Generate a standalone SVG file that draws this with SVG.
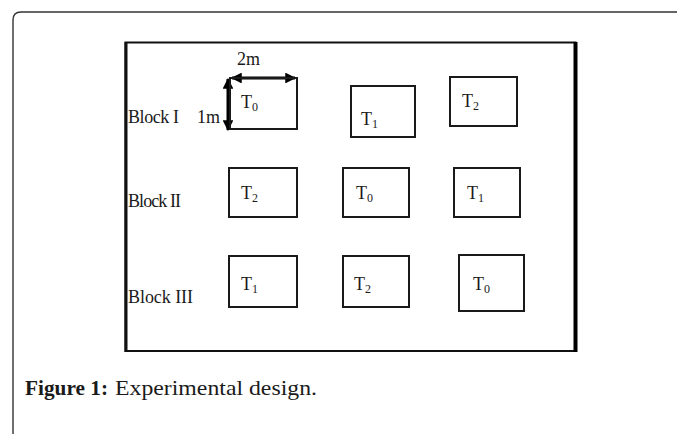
<svg xmlns="http://www.w3.org/2000/svg" width="677" height="434" viewBox="0 0 677 434">
<style>
.lbl{font-family:"Liberation Serif","Times New Roman",serif;font-size:18px;fill:#1a1a1a}
.t{font-family:"Liberation Serif","Times New Roman",serif;font-size:18px;fill:#1a1a1a}
.sub{font-size:12px}
.plot{fill:none;stroke:#1a1a1a;stroke-width:2}
.cap{font-family:"Liberation Serif","Times New Roman",serif;font-size:22px;fill:#1a1a1a}
</style>
<defs>
<marker id="ah" viewBox="0 0 10 10" refX="9" refY="5" markerWidth="3.6" markerHeight="3.6" orient="auto-start-reverse">
<path d="M0,0 L10,5 L0,10 z" fill="#000"/>
</marker>
</defs>
<rect width="677" height="434" fill="#fff"/>
<path d="M13,434 V20 Q13,12 21,12 H677" fill="none" stroke="#333" stroke-width="1.4"/>
<g id="frame">
<rect x="125.5" y="42.5" width="450" height="308.5" fill="none" stroke="#111" stroke-width="2"/>
<line x1="126" y1="42" x2="126" y2="352" stroke="#111" stroke-width="3"/>
<line x1="575.5" y1="42" x2="575.5" y2="352" stroke="#000" stroke-width="4"/>
</g>
<g id="labels">
<text class="lbl" x="128" y="123" textLength="51">Block I</text>
<text class="lbl" x="197" y="123">1m</text>
<text class="lbl" x="237" y="65">2m</text>
<text class="lbl" x="128" y="207" textLength="53">Block II</text>
<text class="lbl" x="128" y="303" textLength="65">Block III</text>
</g>
<g id="connectors">
<line x1="232" y1="78" x2="295" y2="78" stroke="#000" stroke-width="3" marker-start="url(#ah)" marker-end="url(#ah)"/>
<line x1="228" y1="79" x2="228" y2="130" stroke="#000" stroke-width="3" marker-start="url(#ah)" marker-end="url(#ah)"/>
</g>
<g id="r1c1"><rect class="plot" x="230" y="78" width="67" height="51"/><text class="t" x="241" y="108">T<tspan class="sub" dy="3">0</tspan></text></g>
<g id="r1c2"><rect class="plot" x="351" y="86" width="64" height="51"/><text class="t" x="361" y="125">T<tspan class="sub" dy="3">1</tspan></text></g>
<g id="r1c3"><rect class="plot" x="450" y="77" width="67" height="49"/><text class="t" x="462" y="107">T<tspan class="sub" dy="3">2</tspan></text></g>
<g id="r2c1"><rect class="plot" x="229" y="168" width="68" height="49"/><text class="t" x="241" y="199">T<tspan class="sub" dy="3">2</tspan></text></g>
<g id="r2c2"><rect class="plot" x="343" y="168" width="66" height="49"/><text class="t" x="356" y="199">T<tspan class="sub" dy="3">0</tspan></text></g>
<g id="r2c3"><rect class="plot" x="454" y="168" width="66" height="49"/><text class="t" x="467" y="199">T<tspan class="sub" dy="3">1</tspan></text></g>
<g id="r3c1"><rect class="plot" x="229" y="256" width="68" height="51"/><text class="t" x="241" y="290">T<tspan class="sub" dy="3">1</tspan></text></g>
<g id="r3c2"><rect class="plot" x="343" y="256" width="66" height="51"/><text class="t" x="354" y="290">T<tspan class="sub" dy="3">2</tspan></text></g>
<g id="r3c3"><rect class="plot" x="459" y="255" width="65" height="56"/><text class="t" x="473" y="290">T<tspan class="sub" dy="3">0</tspan></text></g>
<g id="caption">
<text class="cap" x="25" y="395" font-weight="bold" textLength="83" lengthAdjust="spacingAndGlyphs">Figure 1:</text>
<text class="cap" x="115" y="395" textLength="202" lengthAdjust="spacingAndGlyphs">Experimental design.</text>
</g>
</svg>
